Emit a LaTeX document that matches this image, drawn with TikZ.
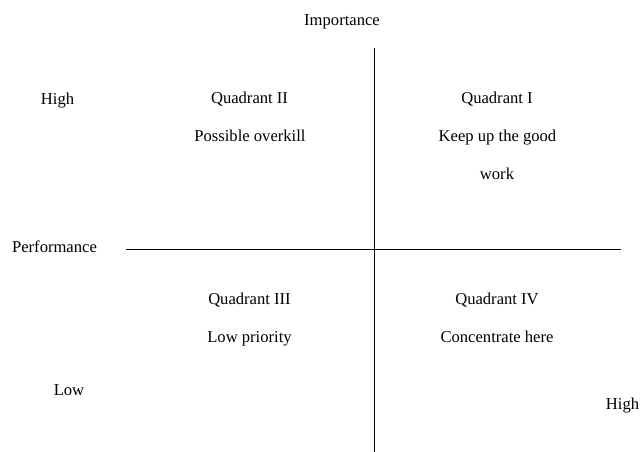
\documentclass[tikz,border=0pt]{standalone}
\usepackage{fontspec}
\setmainfont{Liberation Serif}
\usetikzlibrary{positioning}

\begin{document}
\begin{tikzpicture}
	[
	  x=1pt, y=-1pt,
	  label/.style={font=\fontsize{16.6}{19}\selectfont, inner sep=0pt, anchor=base},
	  axis/.style={line width=1pt},
	]
	\useasboundingbox (0,0) rectangle (640,452);
	\coordinate (top) at (374,48);
	\coordinate (bottom) at (374,452);
	\coordinate (left) at (126,249);
	\coordinate (right) at (621,249);
	\draw [axis] (top) -- (bottom);
	\draw [axis] (left) -- (right);
	\node (imp) [label] at (342,26) {Importance};
	\node (perf) [label] at (54.5,252) {Performance};
	\node (hi1) [label] at (57.5,104) {High};
	\node (lo) [label] at (69,395) {Low};
	\node (hi2) [label] at (622.5,409) {High};
	\node (q2) [label] at (249.5,103) {Quadrant II};
	\node (q2t) [label] at (250,141) {Possible overkill};
	\node (q1) [label] at (497,103) {Quadrant I};
	\node (q1t) [label] at (497.5,141) {Keep up the good};
	\node (q1w) [label] at (497,179) {work};
	\node (q3) [label] at (249.5,304) {Quadrant III};
	\node (q3t) [label] at (249.5,342) {Low priority};
	\node (q4) [label] at (497,304) {Quadrant IV};
	\node (q4t) [label] at (497,342) {Concentrate here};
  \end{tikzpicture}
\end{document}
